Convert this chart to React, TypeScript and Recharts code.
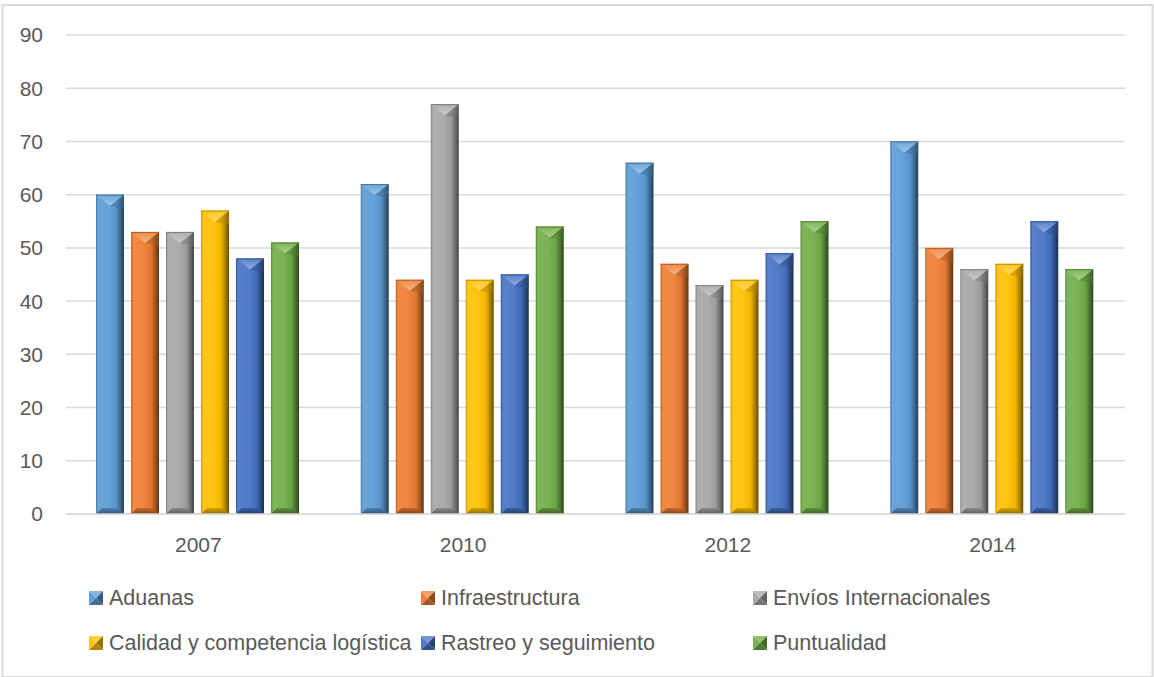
import React from 'react';
import { BarChart, Bar, XAxis, YAxis, CartesianGrid } from 'recharts';

const years = ['2007', '2010', '2012', '2014'];

const aduanas = [60, 62, 66, 70];
const infraestructura = [53, 44, 47, 50];
const envios = [53, 77, 43, 46];
const calidad = [57, 44, 44, 47];
const rastreo = [48, 45, 49, 55];
const puntualidad = [51, 54, 55, 46];

const yTicks = [0, 10, 20, 30, 40, 50, 60, 70, 80, 90];

const series = [
    { key: 'aduanas', name: 'Aduanas', color: '#5B9BD5', values: aduanas },
    { key: 'infraestructura', name: 'Infraestructura', color: '#ED7D31', values: infraestructura },
    { key: 'envios', name: 'Envíos Internacionales', color: '#A5A5A5', values: envios },
    { key: 'calidad', name: 'Calidad y competencia logística', color: '#FFC000', values: calidad },
    { key: 'rastreo', name: 'Rastreo y seguimiento', color: '#4472C4', values: rastreo },
    { key: 'puntualidad', name: 'Puntualidad', color: '#70AD47', values: puntualidad },
];

const chartData = years.map((year, i) => {
    const row: Record<string, string | number> = { year };
    series.forEach((s) => {
        row[s.key] = s.values[i];
    });
    return row;
});

const FONT = '"Liberation Sans", Arial, sans-serif';
const TEXT = '#595959';
const GRID = '#D9D9D9';

// mix a hex colour towards white (amt > 0) or black (amt < 0)
const shade = (hex: string, amt: number) => {
    const n = parseInt(hex.slice(1), 16);
    const ch = [(n >> 16) & 255, (n >> 8) & 255, n & 255].map((c) => {
        const t = amt > 0 ? 255 : 0;
        return Math.round(c + (t - c) * Math.abs(amt));
    });
    return `rgb(${ch[0]},${ch[1]},${ch[2]})`;
};

// bar with a soft bevel: light chevron on top, shaded right edge and foot
const makeBevelBar = (color: string, id: string) => (props: any) => {
    const { x, y, width: w, height: h } = props;
    if (!h || h <= 0) return <g />;
    const d = Math.min(w / 2 - 2, 11);
    const b = 6;
    return (
        <g>
            <rect x={x} y={y} width={w} height={h} fill={`url(#face-${id})`} />
            <polygon
                points={`${x},${y + h} ${x + b},${y + h - b} ${x + w - b},${y + h - b} ${x + w},${y + h}`}
                fill={`url(#foot-${id})`}
            />
            <polygon
                points={`${x + w},${y} ${x + w / 2},${y + d} ${x + w},${y + d + 3}`}
                fill={shade(color, -0.3)}
                opacity={0.45}
            />
            <polygon
                points={`${x},${y} ${x + w},${y} ${x + w / 2},${y + d}`}
                fill={`url(#top-${id})`}
            />
            <line x1={x} y1={y + 0.5} x2={x + w} y2={y + 0.5} stroke={shade(color, -0.25)} strokeWidth={1} />
        </g>
    );
};

const LegendMarker = ({ color }: { color: string }) => (
    <svg width={14} height={14} style={{ display: 'block' }}>
        <polygon points="0,0 14,0 7,7" fill={shade(color, 0.25)} />
        <polygon points="0,0 7,7 0,14" fill={shade(color, 0.05)} />
        <polygon points="14,0 14,14 7,7" fill={shade(color, -0.4)} />
        <polygon points="0,14 7,7 14,14" fill={shade(color, -0.3)} />
    </svg>
);

const App: React.FC = () => {
    return (
        <div style={{ position: 'absolute', left: 0, top: 0, width: 1154, height: 677, background: '#fff', overflow: 'hidden' }}>
            <BarChart
                width={1154}
                height={677}
                data={chartData}
                margin={{ top: 35, right: 29, bottom: 123, left: 6 }}
                barCategoryGap={30}
                barGap={7}
            >
                <defs>
                    {series.map((s) => (
                        <React.Fragment key={s.key}>
                            <linearGradient id={`face-${s.key}`} x1="0" y1="0" x2="1" y2="0">
                                <stop offset="0%" stopColor={shade(s.color, -0.2)} />
                                <stop offset="8%" stopColor={shade(s.color, 0.1)} />
                                <stop offset="45%" stopColor={shade(s.color, 0.07)} />
                                <stop offset="72%" stopColor={shade(s.color, -0.05)} />
                                <stop offset="88%" stopColor={shade(s.color, -0.35)} />
                                <stop offset="100%" stopColor={shade(s.color, -0.6)} />
                            </linearGradient>
                            <linearGradient id={`top-${s.key}`} x1="0" y1="0" x2="0" y2="1">
                                <stop offset="0%" stopColor={shade(s.color, 0.1)} />
                                <stop offset="100%" stopColor={shade(s.color, 0.42)} />
                            </linearGradient>
                            <linearGradient id={`foot-${s.key}`} x1="0" y1="0" x2="0" y2="1">
                                <stop offset="0%" stopColor={shade(s.color, -0.15)} />
                                <stop offset="100%" stopColor={shade(s.color, -0.45)} />
                            </linearGradient>
                        </React.Fragment>
                    ))}
                </defs>
                <CartesianGrid vertical={false} stroke={GRID} strokeWidth={1.5} />
                <XAxis
                    dataKey="year"
                    height={40}
                    axisLine={{ stroke: GRID, strokeWidth: 1.5 }}
                    tickLine={false}
                    tickSize={0}
                    tickMargin={23}
                    tick={{ fill: TEXT, fontSize: 21, fontFamily: FONT }}
                />
                <YAxis
                    width={60}
                    domain={[0, 90]}
                    ticks={yTicks}
                    axisLine={false}
                    tickLine={false}
                    tickSize={0}
                    tickMargin={23}
                    tick={{ fill: TEXT, fontSize: 21, fontFamily: FONT }}
                />
                {series.map((s) => (
                    <Bar
                        key={s.key}
                        dataKey={s.key}
                        name={s.name}
                        fill={s.color}
                        shape={makeBevelBar(s.color, s.key)}
                        isAnimationActive={false}
                    />
                ))}
            </BarChart>

            <div
                style={{
                    position: 'absolute',
                    left: 89,
                    top: 586,
                    display: 'grid',
                    gridTemplateColumns: '332px 332px 332px',
                    rowGap: 21,
                    fontFamily: FONT,
                    fontSize: 21.5,
                    color: TEXT,
                }}
            >
                {series.map((s) => (
                    <div key={s.key} style={{ display: 'flex', alignItems: 'center', height: 24, whiteSpace: 'nowrap' }}>
                        <LegendMarker color={s.color} />
                        <span style={{ marginLeft: 6 }}>{s.name}</span>
                    </div>
                ))}
            </div>

            {/* chart area frame */}
            <svg width={1154} height={677} style={{ position: 'absolute', left: 0, top: 0, pointerEvents: 'none' }}>
                <rect x={2.5} y={5} width={1150} height={672} fill="none" stroke={GRID} strokeWidth={2} />
            </svg>
        </div>
    );
};

export default App;
